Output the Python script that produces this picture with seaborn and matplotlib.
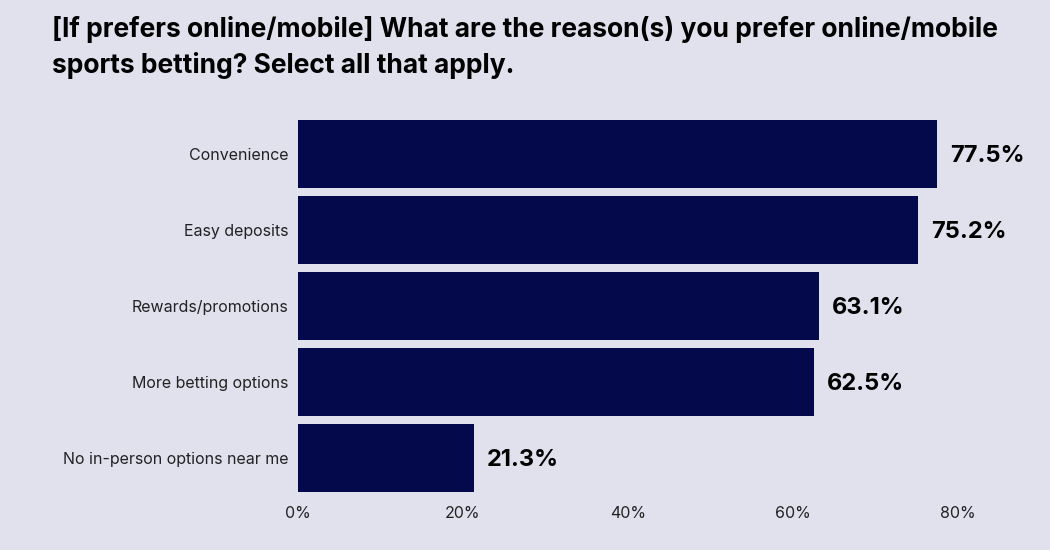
import matplotlib
matplotlib.use("Agg")
import matplotlib.pyplot as plt
import seaborn as sns
import pandas as pd
from matplotlib.ticker import FuncFormatter

categories = ["Convenience", "Easy deposits", "Rewards/promotions",
              "More betting options", "No in-person options near me"]
values = [77.5, 75.2, 63.1, 62.5, 21.3]
xticks = [0, 20, 40, 60, 80]

bg = "#E1E1EE"
bar_color = "#03094B"

sns.set_theme(style="white")
plt.rcParams['font.family'] = ['Inter', 'DejaVu Sans']

df = pd.DataFrame({"reason": categories, "pct": values})

fig = plt.figure(figsize=(10.5, 5.5), dpi=100, facecolor=bg)
ax = fig.add_axes([298/1050, 1-496/550, (958-298)/1050, (496-116)/550])
ax.set_facecolor(bg)

sns.barplot(data=df, x="pct", y="reason", color=bar_color, saturation=1,
            width=0.895, ax=ax, orient="h", linewidth=0, edgecolor="none")

for p, v in zip(ax.patches, values):
    ax.text(p.get_width() + 1.6, p.get_y() + p.get_height()/2, f"{v}%",
            va="center_baseline", ha="left", fontsize=17, fontweight="bold",
            color="#000000", clip_on=False)

ax.set_xlim(0, 80)
ax.set_xticks(xticks)
ax.xaxis.set_major_formatter(FuncFormatter(lambda x, _: f"{int(x)}%"))
ax.set_xlabel("")
ax.set_ylabel("")
ax.tick_params(axis="both", length=0, labelsize=11.5, colors="#222222")
ax.tick_params(axis="y", pad=7)
ax.tick_params(axis="x", pad=7)
for s in ax.spines.values():
    s.set_visible(False)
ax.grid(False)

fig.text(52/1050, 1-16/550,
         "[If prefers online/mobile] What are the reason(s) you prefer online/mobile\nsports betting? Select all that apply.",
         ha="left", va="top", fontsize=19, fontweight="bold", color="#000000",
         linespacing=1.45)

fig.savefig("out.png", dpi=100, facecolor=bg)
